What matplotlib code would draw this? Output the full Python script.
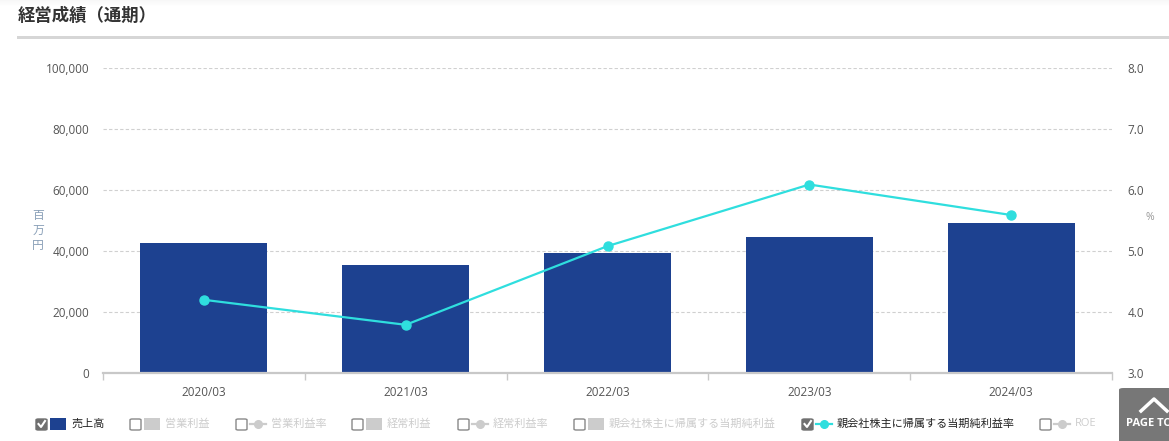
import numpy as np
import matplotlib
matplotlib.use('Agg')
import matplotlib.pyplot as plt
from matplotlib.patches import Rectangle, FancyBboxPatch
from matplotlib.lines import Line2D
from matplotlib.ticker import FuncFormatter

plt.rcParams['font.family'] = ['Open Sans', 'Noto Sans CJK JP', 'DejaVu Sans']

years = ['2020/03', '2021/03', '2022/03', '2023/03', '2024/03']
sales = [42600, 35400, 39300, 44600, 49200]          # 売上高 (百万円)
net_margin = [4.20, 3.79, 5.08, 6.09, 5.59]           # 親会社株主に帰属する当期純利益率 (%)

legend_labels = ['売上高', '営業利益', '営業利益率', '経常利益', '経常利益率',
                 '親会社株主に帰属する当期純利益', '親会社株主に帰属する当期純利益率', 'ROE']
legend_kind = ['bar', 'bar', 'line', 'bar', 'line', 'bar', 'line', 'line']
legend_on = [True, False, False, False, False, False, True, False]
legend_x = [36, 130, 236, 352, 458, 574, 802, 1040]

BLUE = '#1d4190'
CYAN = '#2fdede'
W, H = 1169, 441

fig = plt.figure(figsize=(W / 100, H / 100), dpi=100)


def fx(x):
    return x / W


def fy(y):
    return 1 - y / H


ax = fig.add_axes([fx(103), fy(373), (1112 - 103) / W, (373 - 68) / H])
ax2 = ax.twinx()

x = np.arange(len(years))
ax.bar(x, sales, width=0.63, color=BLUE, zorder=2)
ax.set_xlim(-0.5, len(years) - 0.5)
ax.set_ylim(0, 100000)
ax.set_yticks(np.arange(0, 100001, 20000))
ax.yaxis.set_major_formatter(FuncFormatter(lambda v, p: f'{int(v):,}'))
ax.grid(axis='y', color='#d0d0d0', linestyle=(0, (3, 2)), linewidth=0.8, zorder=0)
ax.set_axisbelow(True)
ax.set_xticks(x)
ax.set_xticklabels(years)
ax.set_xticks(np.arange(-0.5, len(years), 1), minor=True)
ax.tick_params(axis='x', which='major', length=0, pad=9, labelsize=8.5, labelcolor='#555555')
ax.tick_params(axis='x', which='minor', length=5, width=1, color='#c8c8c8')
ax.tick_params(axis='y', length=0, pad=10, labelsize=8.5, labelcolor='#555555')
for s in ['top', 'left', 'right']:
    ax.spines[s].set_visible(False)
ax.spines['bottom'].set_color('#c8c8c8')
ax.spines['bottom'].set_linewidth(1.6)

ax2.plot(x, net_margin, color=CYAN, linewidth=1.6, marker='o', markersize=6.5, zorder=3)
ax2.set_ylim(3.0, 8.0)
ax2.set_yticks(np.arange(3.0, 8.01, 1.0))
ax2.yaxis.set_major_formatter(FuncFormatter(lambda v, p: f'{v:.1f}'))
ax2.tick_params(axis='y', length=0, pad=11, labelsize=8.5, labelcolor='#555555')
for s in ['top', 'left', 'right', 'bottom']:
    ax2.spines[s].set_visible(False)

# axis unit labels
fig.text(fx(38), fy(230), '百\n万\n円', color='#8aa0b8', fontsize=8.5, ha='center', va='center',
         linespacing=1.2)
fig.text(fx(1150), fy(218), '%', color='#999999', fontsize=7.5, ha='center', va='center')

# title and rule
fig.text(fx(18), fy(16), '経営成績（通期）', fontsize=12.5, fontweight='bold', color='#333333',
         ha='left', va='center')
fig.add_artist(Rectangle((fx(17), fy(39)), 1 - fx(17), 3 / H, transform=fig.transFigure,
                         facecolor='#d6d6d6', edgecolor='none'))
for i in range(6):
    fig.add_artist(Rectangle((0, fy(i + 1)), 1, 1 / H, transform=fig.transFigure,
                             facecolor='#000000', alpha=0.03 * (6 - i) / 6, edgecolor='none'))

# custom legend
ly = 424
for lab, kind, on, lx in zip(legend_labels, legend_kind, legend_on, legend_x):
    box = FancyBboxPatch((fx(lx), fy(ly + 6)), 11 / W, 11 / H, transform=fig.transFigure,
                         boxstyle='round,pad=0,rounding_size=0.002',
                         facecolor='#707070' if on else 'white',
                         edgecolor='#707070' if on else '#888888', linewidth=1)
    fig.add_artist(box)
    if on:
        fig.add_artist(Line2D([fx(lx + 2.5), fx(lx + 5), fx(lx + 9)],
                              [fy(ly), fy(ly + 3), fy(ly - 3)],
                              transform=fig.transFigure, color='white', linewidth=1.5))
    if lab == '売上高':
        col = BLUE
    elif lab == '親会社株主に帰属する当期純利益率':
        col = CYAN
    else:
        col = '#cccccc'
    if kind == 'bar':
        fig.add_artist(Rectangle((fx(lx + 14), fy(ly + 6)), 16 / W, 12 / H,
                                 transform=fig.transFigure, facecolor=col, edgecolor='none'))
    else:
        fig.add_artist(Line2D([fx(lx + 14), fx(lx + 30)], [fy(ly), fy(ly)],
                              transform=fig.transFigure, color=col, linewidth=1.6))
        fig.add_artist(Line2D([fx(lx + 22)], [fy(ly)], transform=fig.transFigure, color=col,
                              marker='o', markersize=5.5, linestyle='none'))
    fig.text(fx(lx + 35), fy(ly), lab, fontsize=8, color='#222222' if on else '#cccccc',
             ha='left', va='center')

# page top button (cut off by the right edge, as in the page)
fig.add_artist(FancyBboxPatch((fx(1119), fy(445)), 60 / W, 57 / H, transform=fig.transFigure,
                              boxstyle='round,pad=0,rounding_size=0.004',
                              facecolor='#777777', edgecolor='none'))
fig.add_artist(Line2D([fx(1141), fx(1154), fx(1167)], [fy(411), fy(399), fy(411)],
                      transform=fig.transFigure, color='white', linewidth=2.5))
fig.text(fx(1126), fy(423), 'PAGE TOP', fontsize=8, fontweight='bold', color='white',
         ha='left', va='center')

fig.savefig('out.png', dpi=100)
